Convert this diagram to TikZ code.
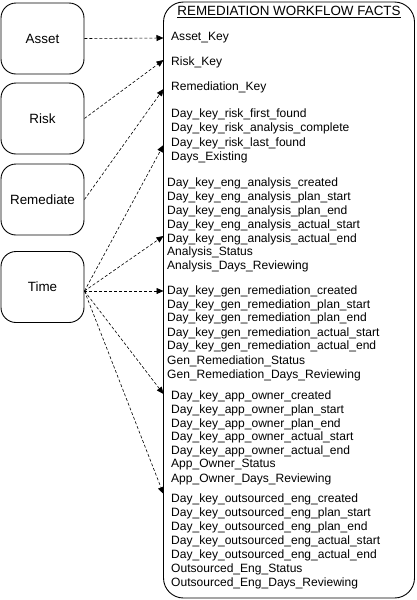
\documentclass[tikz,border=0pt]{standalone}
\usepackage{fontspec}
\setmainfont{Liberation Sans}
\usetikzlibrary{arrows.meta}
\begin{document}
\begin{tikzpicture}[x=1pt,y=-1pt,
  entity/.style={draw,line width=0.9pt,rounded corners=15pt,minimum width=83pt,minimum height=71pt,inner sep=0pt,font=\fontsize{13.4}{16}\selectfont},
  fact/.style={anchor=west,inner sep=0pt,font=\fontsize{12.05}{14}\selectfont},
  link/.style={dashed,dash pattern=on 3pt off 2pt,line width=0.6pt,-{Triangle[length=7pt,width=6pt]}}]
\useasboundingbox (0,0) rectangle (416,600);
% left entity boxes
\node[entity] (asset) at (42.5,38.5) {Asset};
\node[entity] (risk) at (42.5,118.5) {Risk};
\node[entity] (rem) at (42.5,199.5) {Remediate};
\node[entity] (time) at (42.5,287) {Time};
% fact box
\draw[line width=0.9pt,rounded corners=20pt] (163.5,2) rectangle (414.5,598);
\node[inner sep=0pt,font=\fontsize{13.4}{16}\selectfont] (title) at (289,12) {\underline{REMEDIATION WORKFLOW FACTS}};
% fact lines
\foreach \n/\x/\y/\t in {
 1/171/38/Asset\_Key,
 2/171/62/Risk\_Key,
 3/171/87/Remediation\_Key,
 4/171/114/Day\_key\_risk\_first\_found,
 5/171/128/Day\_key\_risk\_analysis\_complete,
 6/171/143/Day\_key\_risk\_last\_found,
 7/171/157/Days\_Existing,
 8/167/183/Day\_key\_eng\_analysis\_created,
 9/167/197/Day\_key\_eng\_analysis\_plan\_start,
 10/167/211/Day\_key\_eng\_analysis\_plan\_end,
 11/167/225/Day\_key\_eng\_analysis\_actual\_start,
 12/167/239/Day\_key\_eng\_analysis\_actual\_end,
 13/167/252/Analysis\_Status,
 14/167/266/Analysis\_Days\_Reviewing,
 15/167/291/Day\_key\_gen\_remediation\_created,
 16/167/305/Day\_key\_gen\_remediation\_plan\_start,
 17/167/318/Day\_key\_gen\_remediation\_plan\_end,
 18/167/333/Day\_key\_gen\_remediation\_actual\_start,
 19/167/346/Day\_key\_gen\_remediation\_actual\_end,
 20/167/361/Gen\_Remediation\_Status,
 21/167/375/Gen\_Remediation\_Days\_Reviewing,
 22/171/396/Day\_key\_app\_owner\_created,
 23/171/410/Day\_key\_app\_owner\_plan\_start,
 24/171/424/Day\_key\_app\_owner\_plan\_end,
 25/171/437/Day\_key\_app\_owner\_actual\_start,
 26/171/451/Day\_key\_app\_owner\_actual\_end,
 27/171/465/App\_Owner\_Status,
 28/171/479/App\_Owner\_Days\_Reviewing,
 29/171/499/Day\_key\_outsourced\_eng\_created,
 30/171/513/Day\_key\_outsourced\_eng\_plan\_start,
 31/171/527/Day\_key\_outsourced\_eng\_plan\_end,
 32/171/541/Day\_key\_outsourced\_eng\_actual\_start,
 33/171/555/Day\_key\_outsourced\_eng\_actual\_end,
 34/171/569/Outsourced\_Eng\_Status,
 35/171/583/Outsourced\_Eng\_Days\_Reviewing}
 \node[fact] (f\n) at (\x,\y) {\t};
% arrow targets on the fact box border
\coordinate (t1) at (163.5,38);
\coordinate (t2) at (163.5,60);
\coordinate (t3) at (163.5,89);
\coordinate (t4) at (163.5,145);
\coordinate (t5) at (163.5,236);
\coordinate (t6) at (163.5,291);
\coordinate (t7) at (163.5,394);
\coordinate (t8) at (163.5,494);
\coordinate (ts) at ([yshift=-4pt]time.east);
% connectors
\draw[link] (asset.east) -- (t1);
\draw[link] (risk.east) -- (t2);
\draw[link] (rem.east) -- (t3);
\draw[link] (ts) -- (t4);
\draw[link] (ts) -- (t5);
\draw[link] (ts) -- (t6);
\draw[link] (ts) -- (t7);
\draw[link] (ts) -- (t8);
\end{tikzpicture}
\end{document}
